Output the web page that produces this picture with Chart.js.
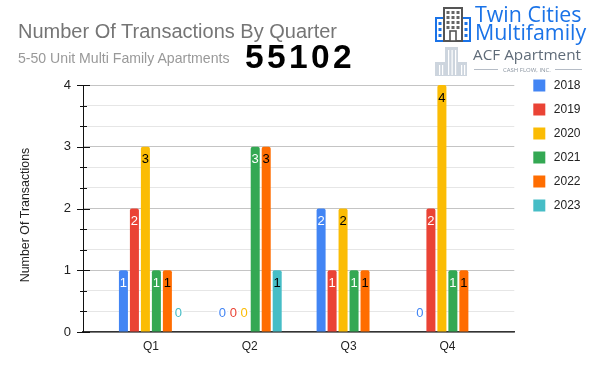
<!DOCTYPE html>
<html><head><meta charset="utf-8">
<style>
html,body{margin:0;padding:0;background:#fff;width:600px;height:371px;overflow:hidden}
#wrap{position:relative;width:600px;height:371px}
canvas{position:absolute;left:0;top:0}
.t{position:absolute;white-space:nowrap;font-family:"Liberation Sans",Arial,sans-serif}
</style>
<script src="https://cdn.jsdelivr.net/npm/chart.js@4"></script>
</head><body>
<div id="wrap">
<canvas id="c" width="600" height="371"></canvas>
<div class="t" style="left:18px;top:20px;font-size:20px;color:#757575">Number Of Transactions By Quarter</div>
<div class="t" style="left:18px;top:50px;font-size:14.1px;color:#999">5-50 Unit Multi Family Apartments</div>
<div class="t" style="left:245px;top:38px;font-size:33.5px;font-weight:bold;color:#000;letter-spacing:3.4px">55102</div>
<svg class="t" style="left:434px;top:7px" width="38" height="35" viewBox="0 0 38 35">
<g fill="none" stroke="#1a73e8" stroke-width="2"><rect x="2" y="11" width="8" height="23"/><rect x="28" y="11" width="8" height="23"/></g>
<rect x="10" y="1" width="18" height="33" fill="#fff" stroke="#555" stroke-width="2"/>
<rect x="16" y="24" width="6" height="10" fill="#fff" stroke="#555" stroke-width="1.6"/>
<g fill="#666"><rect x="12.5" y="4" width="3" height="3"/><rect x="17.5" y="4" width="3" height="3"/><rect x="22.5" y="4" width="3" height="3"/><rect x="12.5" y="9" width="3" height="3"/><rect x="17.5" y="9" width="3" height="3"/><rect x="22.5" y="9" width="3" height="3"/><rect x="12.5" y="14" width="3" height="3"/><rect x="17.5" y="14" width="3" height="3"/><rect x="22.5" y="14" width="3" height="3"/><rect x="12.5" y="19" width="3" height="3"/><rect x="17.5" y="19" width="3" height="3"/><rect x="22.5" y="19" width="3" height="3"/></g>
<g fill="#1a73e8"><rect x="4.5" y="15" width="3" height="3"/><rect x="4.5" y="21" width="3" height="3"/><rect x="4.5" y="27" width="3" height="3"/><rect x="30.5" y="15" width="3" height="3"/><rect x="30.5" y="21" width="3" height="3"/><rect x="30.5" y="27" width="3" height="3"/></g>
</svg>
<div class="t" style="left:475px;top:5px;font-size:21.4px;line-height:18px;color:#1a73e8;font-family:'Open Sans',sans-serif">Twin Cities<br>Multifamily</div>
<svg class="t" style="left:432px;top:47px" width="37" height="30" viewBox="0 0 37 30">
<g fill="#cdd5de"><rect x="13" y="0" width="13" height="29"/><rect x="3" y="15" width="32" height="14"/></g>
<g fill="#fff"><rect x="16" y="3" width="1.2" height="25"/><rect x="19.5" y="3" width="1.2" height="25"/><rect x="23" y="3" width="1.2" height="25"/><rect x="7" y="18" width="1.2" height="10"/><rect x="10" y="18" width="1.2" height="10"/><rect x="29" y="18" width="1.2" height="10"/><rect x="32" y="18" width="1.2" height="10"/></g>
</svg>
<div class="t" style="left:473px;top:44px;font-size:15.3px;color:#5f6b78;font-family:'Open Sans',sans-serif">ACF Apartment</div>
<div class="t" style="left:474px;top:69px;width:24px;height:1px;background:#b5bcc6"></div>
<div class="t" style="left:555px;top:69px;width:27px;height:1px;background:#b5bcc6"></div>
<div class="t" style="left:503px;top:65.5px;font-size:6px;color:#8a94a0;font-family:'Open Sans',sans-serif">CASH FLOW, INC.</div>
</div>
<script>
const categories=["Q1","Q2","Q3","Q4"];
const seriesNames=["2018","2019","2020","2021","2022","2023"];
const seriesColors=["#4285f4","#ea4335","#fbbc04","#34a853","#ff6d01","#46bdc6"];
const labelColors=["#ffffff","#ffffff","#000000","#ffffff","#000000","#000000"];
const v2018=[1,0,2,0];
const v2019=[2,0,1,2];
const v2020=[3,0,2,4];
const v2021=[1,3,1,1];
const v2022=[1,3,1,1];
const v2023=[0,1,null,null];
const allValues=[v2018,v2019,v2020,v2021,v2022,v2023];
const yMax=4;
const yMinorPerStep=3;
const yAxisTitle="Number Of Transactions";
const FONT='"Liberation Sans",Arial,sans-serif';

const labelPlugin={id:'barLabels',afterDatasetsDraw(ch){
  const c=ch.ctx;c.save();c.font='13px '+FONT;c.textAlign='center';c.textBaseline='middle';
  ch.data.datasets.forEach((d,i)=>{
    ch.getDatasetMeta(i).data.forEach((el,j)=>{
      const val=allValues[i][j];
      if(val===null||val===undefined)return;
      if(val===0){
        c.fillStyle='#fff';c.fillRect(el.x-5,el.y-25,10,13);
        c.fillStyle=seriesColors[i];c.fillText('0',el.x,el.y-19);
      }else{
        c.fillStyle=labelColors[i];c.fillText(String(val),el.x,el.y+13);
      }
    });
  });
  c.restore();
}};
const axisPlugin={id:'axisDecor',afterDraw(ch){
  const c=ch.ctx,s=ch.scales.y,x0=s.right;c.save();
  c.strokeStyle='#111';c.lineWidth=1;
  s.ticks.forEach((t,i)=>{
    const y=Math.round(s.getPixelForTick(i))+0.5,a=t.major?6:3,b=t.major?7:4;
    c.beginPath();c.moveTo(x0-a,y);c.lineTo(x0+b,y);c.stroke();
  });
  c.fillStyle='#222';c.font='12.4px '+FONT;c.textAlign='center';c.textBaseline='middle';
  c.translate(26,215);c.rotate(-Math.PI/2);c.fillText(yAxisTitle,0,0);
  c.restore();
}};
new Chart(document.getElementById('c'),{
  type:'bar',
  data:{datasets:seriesNames.map((n,i)=>({
    label:n,
    data:allValues[i].map((y,j)=>({x:j,y:y})),
    backgroundColor:seriesColors[i],
    borderRadius:{topLeft:2,topRight:2,bottomLeft:0,bottomRight:0},
    borderSkipped:false,
    categoryPercentage:0.667,
    barPercentage:0.82
  }))},
  options:{
    responsive:false,animation:false,
    layout:{padding:{left:0,right:9.5,top:70,bottom:0}},
    plugins:{
      tooltip:{enabled:false},
      title:{display:false},
      legend:{position:'right',align:'start',
        labels:{boxWidth:17,boxHeight:17,padding:7,color:'#222',font:{size:12,family:FONT},
          generateLabels(ch){return seriesNames.map((n,i)=>({text:n,fillStyle:seriesColors[i],strokeStyle:'#fff',lineWidth:5,datasetIndex:i,fontColor:'#222'}));}}}
    },
    scales:{
      x:{type:'linear',min:-0.687,max:3.677,offset:false,
        afterFit(s){s.height=39;},
        grid:{display:false,drawTicks:false,offset:false},
        border:{color:'#333',width:1.5},
        ticks:{includeBounds:false,stepSize:1,autoSkip:false,maxRotation:0,padding:7,color:'#222',font:{size:12,family:FONT},
          callback:v=>categories[v]}},
      y:{min:0,max:yMax,
        afterFit(s){s.width=83;},
        afterBuildTicks(s){s.ticks=[];for(let k=0;k<=yMax*yMinorPerStep;k++)s.ticks.push({value:k/yMinorPerStep,major:k%yMinorPerStep===0});},
        grid:{color:ctx=>ctx.tick&&ctx.tick.major?'#c4c4c4':'#e6e6e6',lineWidth:1,drawTicks:false},
        border:{color:'#111',width:1},
        ticks:{autoSkip:false,padding:12,color:'#222',font:{size:13,family:FONT},
          callback:(v,i,t)=>t[i].major?String(v):''}},
      xTop:{type:'linear',position:'top',axis:'x',afterFit(s){s.height=15;},grid:{display:false},border:{display:false},ticks:{display:false}},
      yGap:{type:'linear',position:'right',axis:'y',afterFit(s){s.width=9.5;},grid:{display:false},border:{display:false},ticks:{display:false}}
    }
  },
  plugins:[labelPlugin,axisPlugin]
});
</script>
</body></html>
